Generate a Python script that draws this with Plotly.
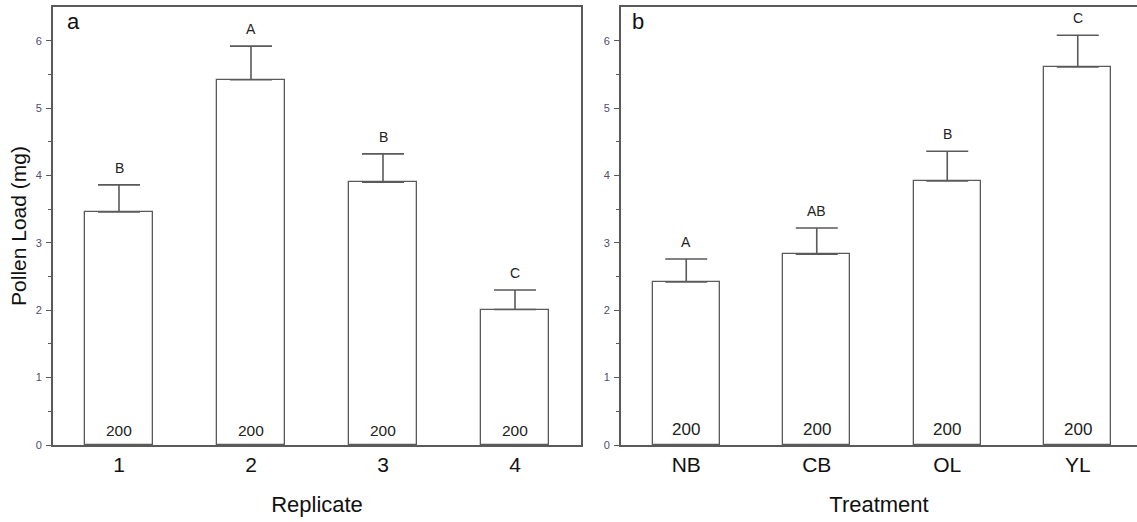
import plotly.graph_objects as go
from plotly.subplots import make_subplots

# Panel a: pollen load by replicate
replicates = ["1", "2", "3", "4"]
rep_mean = [3.46, 5.42, 3.90, 2.01]
rep_se = [0.40, 0.50, 0.42, 0.29]
rep_letters = ["B", "A", "B", "C"]
rep_n = [200, 200, 200, 200]

# Panel b: pollen load by treatment
treatments = ["NB", "CB", "OL", "YL"]
trt_mean = [2.42, 2.83, 3.92, 5.61]
trt_se = [0.34, 0.39, 0.44, 0.47]
trt_letters = ["A", "AB", "B", "C"]
trt_n = [200, 200, 200, 200]

FONT = "Arial, Liberation Sans, sans-serif"
LINE = "#5a5a5a"
TICKFONT = "#4d4d70"

W, H = 1137, 522
fig = make_subplots(rows=1, cols=2)

panels = [
    (1, replicates, rep_mean, rep_se, rep_letters, rep_n, 0.508, 15.5),
    (2, treatments, trt_mean, trt_se, trt_letters, trt_n, 0.513, 17),
]
for col, cats, mean, se, letters, n, bw, nsize in panels:
    fig.add_trace(
        go.Bar(
            x=cats, y=mean, width=bw,
            marker=dict(color="white", line=dict(color=LINE, width=1.3)),
            error_y=dict(type="data", array=se, arrayminus=[0] * len(se),
                         symmetric=False, width=21, thickness=1.6, color=LINE),
            showlegend=False, hoverinfo="skip",
        ),
        row=1, col=col,
    )
    xref = "x" if col == 1 else "x2"
    yref = "y" if col == 1 else "y2"
    # category axes: place annotations by category index
    for i, (m, s, lab, cnt) in enumerate(zip(mean, se, letters, n)):
        fig.add_annotation(x=i, y=m + s, xref=xref, yref=yref, text=lab,
                           showarrow=False, yanchor="bottom", yshift=7,
                           font=dict(family=FONT, size=14, color="#222"))
        fig.add_annotation(x=i, y=0, xref=xref, yref=yref, text=str(cnt),
                           showarrow=False, yanchor="bottom", yshift=4,
                           font=dict(family=FONT, size=nsize, color="#222"))

# plot-area geometry in pixels
top, bottom = 7, 445
a_left, a_right = 53, 581
b_left = 621

fig.update_layout(
    width=W, height=H,
    margin=dict(l=0, r=0, t=top, b=H - bottom),
    paper_bgcolor="white", plot_bgcolor="white",
    bargap=0,
    xaxis=dict(domain=[a_left / W, a_right / W], range=[-0.5, 3.5]),
    xaxis2=dict(domain=[b_left / W, 1.0], range=[-0.5, -0.5 + (W - b_left) / 130.5]),
    yaxis=dict(mirror=True),
    yaxis2=dict(mirror=False),
)

fig.update_xaxes(
    type="category",
    showline=True, linecolor=LINE, linewidth=1.8, mirror=True,
    showgrid=False, zeroline=False, ticks="",
    tickfont=dict(family=FONT, size=21, color="#111"),
    ticklabelstandoff=0,
)
fig.update_yaxes(
    range=[0, 6.5], showline=True, linecolor=LINE, linewidth=1.8,
    showgrid=False, zeroline=False,
    tickmode="array", tickvals=[0, 1, 2, 3, 4, 5, 6],
    ticks="outside", ticklen=5, tickwidth=1.3, tickcolor=LINE,
    minor=dict(tickvals=[0.5, 1.5, 2.5, 3.5, 4.5, 5.5],
               ticks="outside", ticklen=3, tickwidth=1.2, tickcolor=LINE),
    tickfont=dict(family=FONT, size=11, color=TICKFONT),
    ticklabelstandoff=2,
)
fig.update_xaxes(title=dict(text="Replicate", font=dict(family=FONT, size=22, color="#111"),
                            standoff=22), row=1, col=1)
fig.update_xaxes(title=dict(text="Treatment", font=dict(family=FONT, size=22, color="#111"),
                            standoff=22), row=1, col=2)
fig.update_yaxes(title=dict(text="Pollen Load (mg)", font=dict(family=FONT, size=21, color="#111"),
                            standoff=3), row=1, col=1)

# panel letters
fig.add_annotation(x=(a_left + 12) / W, y=1 - 17 / H, xref="paper", yref="paper",
                   text="a", showarrow=False, xanchor="left", yanchor="middle",
                   font=dict(family=FONT, size=22, color="#111"))
fig.add_annotation(x=(b_left + 9) / W, y=1 - 17 / H, xref="paper", yref="paper",
                   text="b", showarrow=False, xanchor="left", yanchor="middle",
                   font=dict(family=FONT, size=22, color="#111"))

fig.write_html("out.html")
